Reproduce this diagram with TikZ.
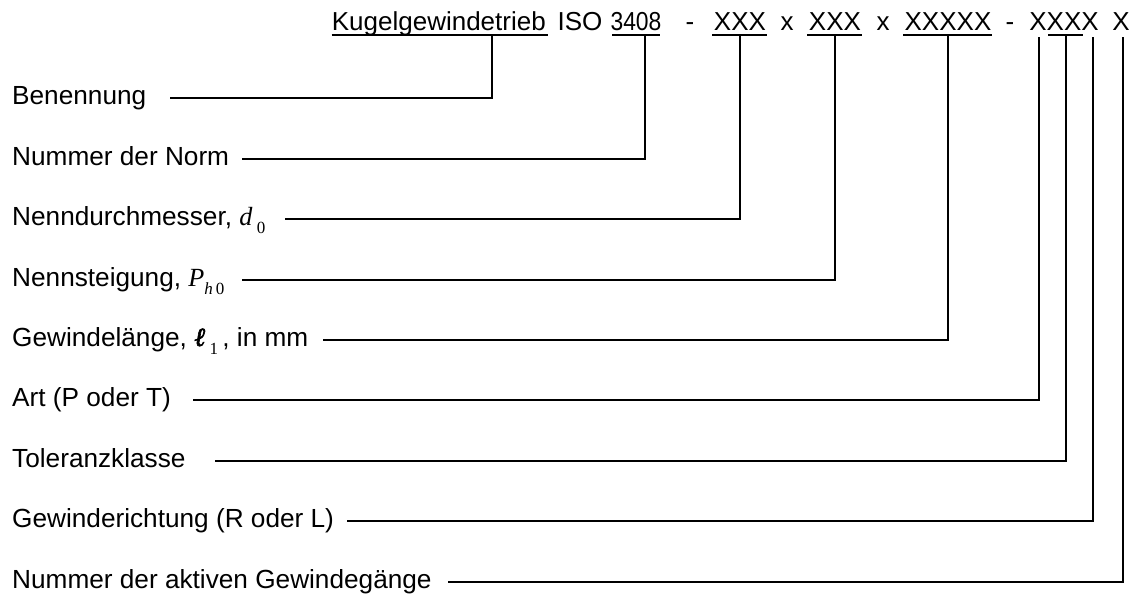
\documentclass[tikz,border=0pt]{standalone}
\usepackage{fontspec}
\setmainfont{Liberation Sans}
\newfontfamily\seriffont{Liberation Serif}
\newfontfamily\ellfont{Liberation Serif}[FakeBold=2.5]
\begin{document}
\begin{tikzpicture}[x=1pt,y=-1pt,
  htxt/.style={inner sep=0pt,font=\fontsize{26}{31}\selectfont},
  hd/.style={htxt,anchor=base},
  lab/.style={inner sep=0pt,font=\fontsize{26.2}{31}\selectfont,anchor=base west},
  ln/.style={line width=2.6pt,black},
  ul/.style={line width=2.6pt,black}]
\useasboundingbox (0,0) rectangle (1136,598);
\newcommand{\mysub}[1]{\raisebox{-0.32em}{\fontsize{17}{17}\selectfont #1}}
% header segments
\node[hd,anchor=base east] (h1) at (546,30) {Kugelgewindetrieb};
\node[hd] (h2) at (580,30) {ISO};
\node[hd] (h3) at (636,30) {\scalebox{0.88}[1]{3408}};
\node[hd] (h4) at (690,30) {-};
\node[hd] (h5) at (740,30) {XXX};
\node[hd] (h6) at (787,30) {x};
\node[hd] (h7) at (835,30) {XXX};
\node[hd] (h8) at (883,30) {x};
\node[hd] (h9) at (948,30) {XXXXX};
\node[hd] (h10) at (1010,30) {-};
\node[hd] (h11) at (1064,30) {XXXX};
\node[hd] (h12) at (1121,30) {X};
% underlines
\draw[ul] (h1.base west |- 0,35) -- (548,35);
\draw[ul] (612,35) -- (660,35);
\draw[ul] (712,35) -- (767,35);
\draw[ul] (807,35) -- (862,35);
\draw[ul] (903,35) -- (992,35);
\draw[ul] (1048,35) -- (1083,35);
% connector tops
\coordinate (u1) at (492,35);
\coordinate (u2) at (645,35);
\coordinate (u3) at (740,35);
\coordinate (u4) at (835,35);
\coordinate (u5) at (948,35);
\coordinate (u6) at (1039,37);
\coordinate (u7) at (1066,35);
\coordinate (u8) at (1093,37);
\coordinate (u9) at (1123,37);
% labels
\node[lab] (l1) at (12,104) {Benennung};
\node[lab] (l2) at (12,165) {Nummer der Norm};
\node[lab] (l3) at (12,225) {Nenndurchmesser, {\seriffont\itshape d}\,\mysub{\seriffont 0}};
\node[lab] (l4) at (12,286) {Nennsteigung, {\seriffont\itshape P}\mysub{\seriffont\itshape h\,\upshape 0}};
\node[lab] (l5) at (12,346) {Gewindelänge, {\ellfont\itshape ℓ}\,\mysub{\seriffont 1}\,, in mm};
\node[lab] (l6) at (12,406) {Art (P oder T)};
\node[lab] (l7) at (12,467) {Toleranzklasse};
\node[lab] (l8) at (12,527) {Gewinderichtung (R oder L)};
\node[lab] (l9) at (12,588) {Nummer der aktiven Gewindegänge};
% line starts
\coordinate (s1) at (170,98);
\coordinate (s2) at (242,159);
\coordinate (s3) at (285,219);
\coordinate (s4) at (242,280);
\coordinate (s5) at (323,340);
\coordinate (s6) at (193,400);
\coordinate (s7) at (215,461);
\coordinate (s8) at (347,521);
\coordinate (s9) at (448,582);
% connectors
\foreach \i in {1,...,9} {
  \draw[ln] (u\i) |- (s\i);
}
\end{tikzpicture}
\end{document}
